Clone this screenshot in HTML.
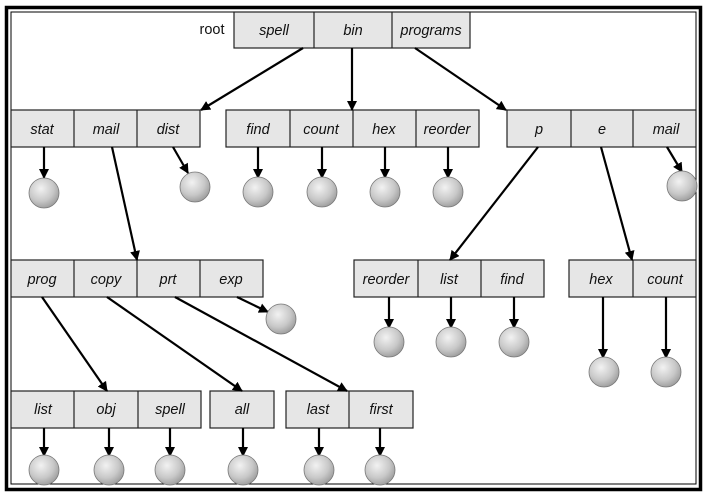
<!DOCTYPE html>
<html><head><meta charset="utf-8"><style>
html,body{margin:0;padding:0;background:#fff;}
svg{display:block;}
text{font-family:"Liberation Sans",Arial,sans-serif;font-size:14.5px;font-style:italic;text-anchor:middle;fill:#111;}
</style></head><body>
<svg width="707" height="497" viewBox="0 0 707 497" xmlns="http://www.w3.org/2000/svg">
<defs>
<radialGradient id="g" cx="0.4" cy="0.35" r="0.7">
<stop offset="0" stop-color="#f2f2f2"/><stop offset="0.6" stop-color="#c8c8c8"/><stop offset="1" stop-color="#999"/>
</radialGradient>
<marker id="a" markerWidth="10" markerHeight="10" refX="9" refY="5" orient="auto" markerUnits="userSpaceOnUse">
<path d="M0,0 L10,5 L0,10 z" fill="#000"/>
</marker>
</defs>
<rect x="6.5" y="7.5" width="694" height="482" fill="none" stroke="#000" stroke-width="3.5"/>
<rect x="11" y="12" width="685" height="472" fill="none" stroke="#000" stroke-width="1"/>
<g fill="#e6e6e6" stroke="#222" stroke-width="1.2">
<rect x="234" y="12" width="236" height="36"/>
<rect x="11" y="110" width="189" height="37"/>
<rect x="226" y="110" width="253" height="37"/>
<rect x="507" y="110" width="189" height="37"/>
<rect x="11" y="260" width="252" height="37"/>
<rect x="354" y="260" width="190" height="37"/>
<rect x="569" y="260" width="127" height="37"/>
<rect x="11" y="391" width="190" height="37"/>
<rect x="210" y="391" width="64" height="37"/>
<rect x="286" y="391" width="127" height="37"/>
</g>
<g stroke="#222" stroke-width="1.2">
<line x1="314" y1="12" x2="314" y2="48"/><line x1="392" y1="12" x2="392" y2="48"/>
<line x1="74" y1="110" x2="74" y2="147"/><line x1="137" y1="110" x2="137" y2="147"/>
<line x1="290" y1="110" x2="290" y2="147"/><line x1="353" y1="110" x2="353" y2="147"/><line x1="416" y1="110" x2="416" y2="147"/>
<line x1="571" y1="110" x2="571" y2="147"/><line x1="633" y1="110" x2="633" y2="147"/>
<line x1="74" y1="260" x2="74" y2="297"/><line x1="137" y1="260" x2="137" y2="297"/><line x1="200" y1="260" x2="200" y2="297"/>
<line x1="418" y1="260" x2="418" y2="297"/><line x1="481" y1="260" x2="481" y2="297"/>
<line x1="633" y1="260" x2="633" y2="297"/>
<line x1="74" y1="391" x2="74" y2="428"/><line x1="138" y1="391" x2="138" y2="428"/>
<line x1="349" y1="391" x2="349" y2="428"/>
</g>
<text x="212" y="34" style="font-style:normal">root</text>
<text x="274" y="35">spell</text><text x="353" y="35">bin</text><text x="431" y="35">programs</text>
<text x="42" y="134">stat</text><text x="106" y="134">mail</text><text x="168" y="134">dist</text>
<text x="258" y="134">find</text><text x="321" y="134">count</text><text x="384" y="134">hex</text><text x="447" y="134">reorder</text>
<text x="539" y="134">p</text><text x="602" y="134">e</text><text x="666" y="134">mail</text>
<text x="42" y="284">prog</text><text x="106" y="284">copy</text><text x="168" y="284">prt</text><text x="231" y="284">exp</text>
<text x="386" y="284">reorder</text><text x="449" y="284">list</text><text x="512" y="284">find</text>
<text x="601" y="284">hex</text><text x="665" y="284">count</text>
<text x="43" y="414">list</text><text x="106" y="414">obj</text><text x="170" y="414">spell</text>
<text x="242" y="414">all</text><text x="318" y="414">last</text><text x="381" y="414">first</text>
<g stroke="#000" stroke-width="2.2" marker-end="url(#a)">
<line x1="303" y1="48" x2="201" y2="110"/>
<line x1="352" y1="48" x2="352" y2="110"/>
<line x1="415" y1="48" x2="506" y2="110"/>
<line x1="44" y1="147" x2="44" y2="178"/>
<line x1="112" y1="147" x2="137" y2="260"/>
<line x1="173" y1="147" x2="188" y2="173"/>
<line x1="258" y1="147" x2="258" y2="178"/>
<line x1="322" y1="147" x2="322" y2="178"/>
<line x1="385" y1="147" x2="385" y2="178"/>
<line x1="448" y1="147" x2="448" y2="178"/>
<line x1="667" y1="147" x2="682" y2="172"/>
<line x1="538" y1="147" x2="450" y2="260"/>
<line x1="601" y1="147" x2="632" y2="260"/>
<line x1="42" y1="297" x2="107" y2="391"/>
<line x1="107" y1="297" x2="242" y2="391"/>
<line x1="175" y1="297" x2="347" y2="391"/>
<line x1="237" y1="297" x2="268" y2="312"/>
<line x1="389" y1="297" x2="389" y2="328"/>
<line x1="451" y1="297" x2="451" y2="328"/>
<line x1="514" y1="297" x2="514" y2="328"/>
<line x1="603" y1="297" x2="603" y2="358"/>
<line x1="666" y1="297" x2="666" y2="358"/>
<line x1="44" y1="428" x2="44" y2="456"/>
<line x1="109" y1="428" x2="109" y2="456"/>
<line x1="170" y1="428" x2="170" y2="456"/>
<line x1="243" y1="428" x2="243" y2="456"/>
<line x1="319" y1="428" x2="319" y2="456"/>
<line x1="380" y1="428" x2="380" y2="456"/>
</g>
<g fill="url(#g)" stroke="#777" stroke-width="0.8">
<circle cx="44" cy="193" r="15"/><circle cx="195" cy="187" r="15"/>
<circle cx="258" cy="192" r="15"/><circle cx="322" cy="192" r="15"/><circle cx="385" cy="192" r="15"/><circle cx="448" cy="192" r="15"/>
<circle cx="682" cy="186" r="15"/>
<circle cx="281" cy="319" r="15"/>
<circle cx="389" cy="342" r="15"/><circle cx="451" cy="342" r="15"/><circle cx="514" cy="342" r="15"/>
<circle cx="604" cy="372" r="15"/><circle cx="666" cy="372" r="15"/>
<circle cx="44" cy="470" r="15"/><circle cx="109" cy="470" r="15"/><circle cx="170" cy="470" r="15"/>
<circle cx="243" cy="470" r="15"/><circle cx="319" cy="470" r="15"/><circle cx="380" cy="470" r="15"/>
</g>
</svg>
</body></html>
